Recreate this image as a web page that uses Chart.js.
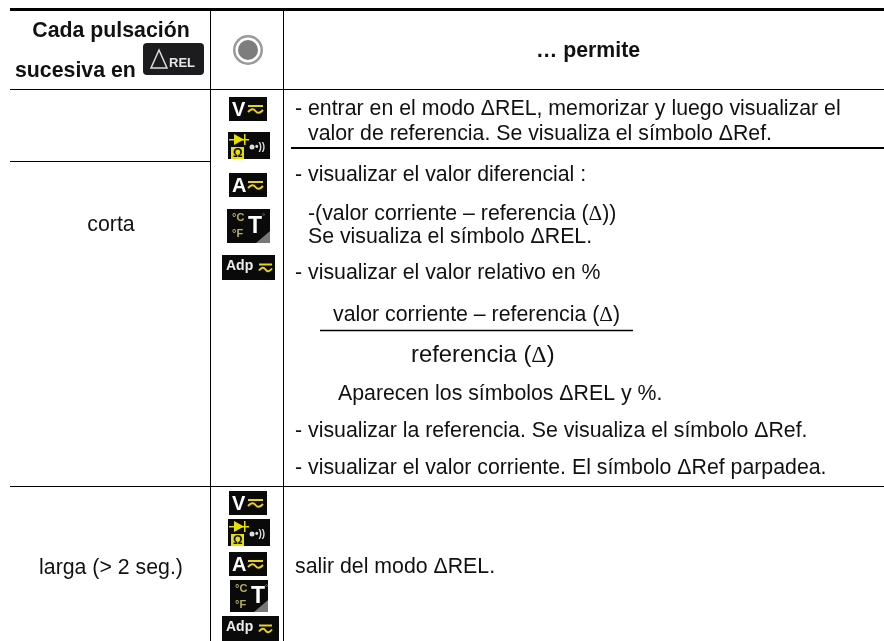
<!DOCTYPE html>
<html>
<head>
<meta charset="utf-8">
<style>
  html, body { margin: 0; padding: 0; background: #fff; }
  #wrap { width: 884px; height: 641px; }
</style>
<script src="https://cdn.jsdelivr.net/npm/chart.js@4/dist/chart.umd.js"></script>
</head>
<body>
<div id="wrap"><canvas id="chart"></canvas></div>
<script>
// table content
const headerLeft = ['Cada pulsación', 'sucesiva en'];
const headerRight = '… permite';
const pressShort = 'corta';
const pressLong = 'larga (> 2 seg.)';
const exitText = 'salir del modo ΔREL.';
const bodyLines = [
  '- entrar en el modo ΔREL, memorizar y luego visualizar el',
  'valor de referencia. Se visualiza el símbolo ΔRef.',
  '- visualizar el valor diferencial :',
  '-(valor corriente – referencia (',
  'Se visualiza el símbolo ΔREL.',
  '- visualizar el valor relativo en %',
  'valor corriente – referencia (',
  'referencia (',
  'Aparecen los símbolos ΔREL y %.',
  '- visualizar la referencia. Se visualiza el símbolo ΔRef.',
  '- visualizar el valor corriente. El símbolo ΔRef parpadea.'
];

const SANS = 'Liberation Sans, Arial, sans-serif';
const SERIF = 'Liberation Serif, Times New Roman, serif';

// [x1, y1, x2, y2, width]
const rules = [
  [10, 9.5, 884, 9.5, 3],
  [10, 89.5, 884, 89.5, 1],
  [10, 161.5, 210, 161.5, 1],
  [291, 148, 884, 148, 2],
  [320, 330.5, 633, 330.5, 1.5],
  [10, 486.5, 884, 486.5, 1],
  [210.5, 10, 210.5, 641, 1],
  [283.5, 10, 283.5, 641, 1]
];

// text placement: [text, x, baseline y, align, size, bold, serif suffix]
const textRuns = [
  [headerLeft[0], 111, 37, 'center', 21.3, true],
  [headerLeft[1], 15, 77, 'left', 21.3, true],
  [headerRight, 588, 57, 'center', 21.3, true],
  [pressShort, 111, 231, 'center', 21.3],
  [pressLong, 111, 574, 'center', 21.3],
  [exitText, 295, 573, 'left', 21.3],
  [bodyLines[0], 295, 115, 'left', 21.3],
  [bodyLines[1], 308, 140, 'left', 21.3],
  [bodyLines[2], 295, 181, 'left', 21.3],
  [bodyLines[3], 308, 220, 'left', 21.3, false, '))'],
  [bodyLines[4], 308, 243, 'left', 21.3],
  [bodyLines[5], 295, 279, 'left', 21.3],
  [bodyLines[6], 333, 321, 'left', 21.3, false, ')'],
  [bodyLines[7], 411, 362, 'left', 23.8, false, ')'],
  [bodyLines[8], 338, 400, 'left', 21.3],
  [bodyLines[9], 295, 437, 'left', 21.3],
  [bodyLines[10], 295, 474, 'left', 21.3]
];

// key badges: [kind, x, y, w, h]
const badges = [
  ['V', 229, 97, 38, 24], ['D', 228, 132, 42, 27], ['A', 229, 173, 38, 24],
  ['T', 227, 209, 43, 34], ['Adp', 222, 255, 53, 25],
  ['V', 229, 491, 38, 24], ['D', 228, 519, 42, 27], ['A', 229, 552, 38, 24],
  ['T', 230, 580, 38, 32], ['Adp', 222, 616, 57, 25]
];

function drawBadge(ctx, kind, x, y, w, h) {
  const yellow = '#e8d21c';
  ctx.fillStyle = '#0a0a0a';
  ctx.fillRect(x, y, w, h);
  ctx.textBaseline = 'middle';
  ctx.textAlign = 'left';
  const midY = y + h / 2 + 1;
  function approx(ax, aw) {
    ctx.strokeStyle = yellow;
    ctx.lineWidth = 2;
    ctx.beginPath();
    ctx.moveTo(ax, midY - 4);
    ctx.lineTo(ax + aw, midY - 4);
    ctx.moveTo(ax, midY + 2);
    ctx.quadraticCurveTo(ax + aw * 0.3, midY - 3, ax + aw * 0.5, midY + 1);
    ctx.quadraticCurveTo(ax + aw * 0.7, midY + 5, ax + aw, midY);
    ctx.stroke();
  }
  if (kind === 'V' || kind === 'A') {
    ctx.fillStyle = '#fff';
    ctx.font = 'bold 20px ' + SANS;
    ctx.fillText(kind, x + 3, midY);
    approx(x + 19, 15);
  } else if (kind === 'D') {
    // diode above a yellow ohm block, buzzer waves on the right
    ctx.fillStyle = '#e8e000';
    ctx.fillRect(x + 1, y + 7, 20, 1.5);
    ctx.beginPath();
    ctx.moveTo(x + 6, y + 2);
    ctx.lineTo(x + 16, y + 7.5);
    ctx.lineTo(x + 6, y + 13);
    ctx.closePath();
    ctx.fill();
    ctx.fillRect(x + 16, y + 2, 1.5, 11);
    ctx.fillRect(x + 3, y + 15, 13, 12);
    ctx.fillStyle = '#0a0a0a';
    ctx.font = 'bold 12px ' + SANS;
    ctx.fillText('Ω', x + 5, y + 21.5);
    ctx.fillStyle = '#ddd';
    ctx.beginPath();
    ctx.arc(x + 24, y + 15, 2.5, 0, Math.PI * 2);
    ctx.fill();
    ctx.font = 'bold 10px ' + SANS;
    ctx.fillText('•))', x + 27, y + 15);
  } else if (kind === 'T') {
    ctx.fillStyle = '#8f8a5a';
    ctx.beginPath();
    ctx.moveTo(x + w, y + h - 12);
    ctx.lineTo(x + w, y + h);
    ctx.lineTo(x + w - 14, y + h);
    ctx.closePath();
    ctx.fillStyle = '#777';
    ctx.fill();
    ctx.fillStyle = '#b9ad62';
    ctx.font = 'bold 11px ' + SANS;
    ctx.fillText('°C', x + 5, y + 9);
    ctx.fillText('°F', x + 5, y + 25);
    ctx.fillStyle = '#fff';
    ctx.font = 'bold 23px ' + SANS;
    ctx.fillText('T', x + 21, midY);
    ctx.fillStyle = '#999';
    ctx.font = '8px ' + SANS;
    ctx.fillText('°', x + 35, y + 8);
  } else {
    ctx.fillStyle = '#eee';
    ctx.font = 'bold 14px ' + SANS;
    ctx.fillText('Adp', x + 4, midY - 2);
    approx(x + 37, 13);
  }
}

const tablePlugin = {
  id: 'tablePlugin',
  afterDatasetsDraw(chart) {
    const { ctx, scales } = chart;
    const px = v => scales.x.getPixelForValue(v);
    const py = v => scales.y.getPixelForValue(v);
    ctx.save();

    // text, with the serif delta used in the formulas
    ctx.fillStyle = '#111';
    ctx.textBaseline = 'alphabetic';
    textRuns.forEach(([t, x, y, align, size, bold, tail]) => {
      const sans = (bold ? 'bold ' : '') + size + 'px ' + SANS;
      ctx.font = sans;
      ctx.textAlign = align;
      ctx.fillText(t, px(x), py(y));
      if (tail) {
        let tx = px(x) + ctx.measureText(t).width;
        ctx.textAlign = 'left';
        ctx.font = size + 'px ' + SERIF;
        ctx.fillText('Δ', tx, py(y));
        tx += ctx.measureText('Δ').width;
        ctx.font = sans;
        ctx.fillText(tail, tx, py(y));
      }
    });

    // ΔREL key in the header
    ctx.fillStyle = '#1c1c1e';
    ctx.beginPath();
    ctx.roundRect(px(143), py(43), 61, 32, 4);
    ctx.fill();
    ctx.strokeStyle = '#ddd';
    ctx.lineWidth = 1.5;
    ctx.beginPath();
    ctx.moveTo(px(151), py(68));
    ctx.lineTo(px(159), py(50));
    ctx.lineTo(px(167), py(68));
    ctx.closePath();
    ctx.stroke();
    ctx.fillStyle = '#e6e6e6';
    ctx.font = 'bold 13px ' + SANS;
    ctx.textAlign = 'left';
    ctx.fillText('REL', px(169), py(67));

    // selector dial in the header
    const cx = px(248), cy = py(50);
    ctx.fillStyle = '#9a9a9a';
    ctx.beginPath(); ctx.arc(cx, cy, 15, 0, Math.PI * 2); ctx.fill();
    ctx.fillStyle = '#fff';
    ctx.beginPath(); ctx.arc(cx, cy, 12.5, 0, Math.PI * 2); ctx.fill();
    ctx.fillStyle = '#7d7d7d';
    ctx.beginPath(); ctx.arc(cx, cy, 10, 0, Math.PI * 2); ctx.fill();

    badges.forEach(([kind, x, y, w, h]) => drawBadge(ctx, kind, px(x), py(y), w, h));
    ctx.restore();
  }
};

new Chart(document.getElementById('chart'), {
  type: 'scatter',
  data: {
    datasets: rules.map(r => ({
      data: [{ x: r[0], y: r[1] }, { x: r[2], y: r[3] }],
      showLine: true,
      borderColor: '#000',
      borderWidth: r[4],
      pointRadius: 0
    }))
  },
  options: {
    responsive: true,
    maintainAspectRatio: false,
    animation: false,
    layout: { padding: 0 },
    plugins: { legend: { display: false }, tooltip: { enabled: false } },
    scales: {
      x: { type: 'linear', min: 0, max: 884, display: false },
      y: { type: 'linear', min: 0, max: 641, reverse: true, display: false }
    }
  },
  plugins: [tablePlugin]
});
</script>
</body>
</html>
